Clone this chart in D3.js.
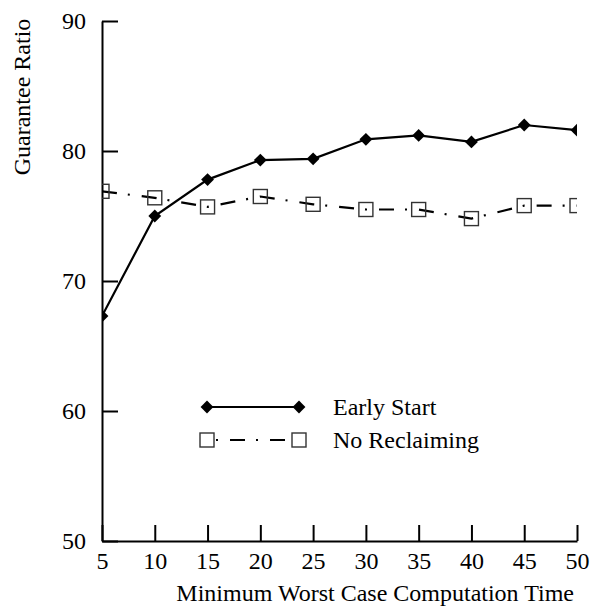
<!DOCTYPE html>
<html>
<head>
<meta charset="utf-8">
<script src="https://cdn.jsdelivr.net/npm/d3@7"></script>
<style>
  html, body { margin: 0; padding: 0; background: #fff; }
  svg text { font-family: "Liberation Serif", "Times New Roman", serif; fill: #000; }
</style>
</head>
<body>
<svg id="chart" width="590" height="606"></svg>
<script>
// Minimum worst-case computation time (x) and guarantee ratio (y)
const xValues = [5, 10, 15, 20, 25, 30, 35, 40, 45, 50];
const earlyStart = [67.3, 75.0, 77.8, 79.3, 79.4, 80.9, 81.2, 80.7, 82.0, 81.6];
const noReclaiming = [76.9, 76.4, 75.7, 76.5, 75.9, 75.5, 75.5, 74.8, 75.8, 75.8];
const xTicks = [5, 10, 15, 20, 25, 30, 35, 40, 45, 50];
const yTicks = [50, 60, 70, 80, 90];
const seriesNames = ["Early Start", "No Reclaiming"];

const svg = d3.select("#chart");
const plotLeft = 102, plotRight = 577, plotTop = 21, plotBottom = 541;
const x = d3.scaleLinear().domain([5, 50]).range([plotLeft, plotRight]);
const y = d3.scaleLinear().domain([50, 90]).range([plotBottom, plotTop]);

svg.append("defs").append("clipPath").attr("id", "plotClip")
  .append("rect").attr("x", plotLeft).attr("y", plotTop - 10)
  .attr("width", plotRight - plotLeft).attr("height", plotBottom - plotTop + 10);

// Axes: ticks point inward, labels outside
const yAxis = d3.axisLeft(y).tickValues(yTicks).tickSize(-16).tickPadding(28).tickSizeOuter(0);
const xAxis = d3.axisBottom(x).tickValues(xTicks).tickSize(-16).tickPadding(14).tickSizeOuter(0);

const gy = svg.append("g").attr("transform", `translate(${plotLeft},0)`).call(yAxis);
const gx = svg.append("g").attr("transform", `translate(0,${plotBottom})`).call(xAxis);
[gx, gy].forEach(g => {
  g.select(".domain").attr("stroke", "#000").attr("stroke-width", 2);
  g.selectAll(".tick line").attr("stroke", "#000").attr("stroke-width", 2);
  g.selectAll(".tick text").style("font-size", "24px").attr("fill", "#000");
});
gy.selectAll(".tick text").attr("dx", "12px").attr("dy", "0.33em");
gx.selectAll(".tick text").attr("dy", "0.6em");

// Axis titles
svg.append("text")
  .attr("x", 574).attr("y", 601)
  .attr("text-anchor", "end")
  .style("font-size", "24px")
  .text("Minimum Worst Case Computation Time");
svg.append("text")
  .attr("transform", "translate(30,97) rotate(-90)")
  .attr("text-anchor", "middle")
  .style("font-size", "24px")
  .text("Guarantee Ratio");

const plot = svg.append("g").attr("clip-path", "url(#plotClip)");
const line = d3.line().x(d => x(d[0])).y(d => y(d[1]));
const dashPattern = "15,11,2,12";

const esData = xValues.map((v, i) => [v, earlyStart[i]]);
const nrData = xValues.map((v, i) => [v, noReclaiming[i]]);

plot.append("path").datum(nrData)
  .attr("d", line).attr("fill", "none")
  .attr("stroke", "#000").attr("stroke-width", 2.2)
  .attr("stroke-dasharray", dashPattern);
plot.append("path").datum(esData)
  .attr("d", line).attr("fill", "none")
  .attr("stroke", "#000").attr("stroke-width", 2.2);

const diamond = d3.symbol().type(d3.symbolDiamond2).size(105);
plot.selectAll("path.es").data(esData).join("path")
  .attr("class", "es")
  .attr("transform", d => `translate(${x(d[0])},${y(d[1])})`)
  .attr("d", diamond).attr("fill", "#000");

const sq = 14;
plot.selectAll("rect.nr").data(nrData).join("rect")
  .attr("class", "nr")
  .attr("x", d => x(d[0]) - sq / 2).attr("y", d => y(d[1]) - sq / 2)
  .attr("width", sq).attr("height", sq)
  .attr("fill", "none").attr("stroke", "#333").attr("stroke-width", 1.4);

// Legend
const legend = svg.append("g");
const lx1 = 207, lx2 = 299, ly = [407, 440];
legend.append("line").attr("x1", lx1).attr("x2", lx2).attr("y1", ly[0]).attr("y2", ly[0])
  .attr("stroke", "#000").attr("stroke-width", 2.2);
[lx1, lx2].forEach(px => legend.append("path")
  .attr("transform", `translate(${px},${ly[0]})`).attr("d", diamond).attr("fill", "#000"));
legend.append("line").attr("x1", lx1 + sq / 2).attr("x2", lx2 - sq / 2).attr("y1", ly[1]).attr("y2", ly[1])
  .attr("stroke", "#000").attr("stroke-width", 2.2)
  .attr("stroke-dasharray", dashPattern).attr("stroke-dashoffset", 24);
[lx1, lx2].forEach(px => legend.append("rect")
  .attr("x", px - sq / 2).attr("y", ly[1] - sq / 2).attr("width", sq).attr("height", sq)
  .attr("fill", "#fff").attr("stroke", "#333").attr("stroke-width", 1.4));
seriesNames.forEach((name, i) => legend.append("text")
  .attr("x", 333).attr("y", ly[i]).attr("dy", "0.33em")
  .style("font-size", "24px").text(name));
</script>
</body>
</html>
